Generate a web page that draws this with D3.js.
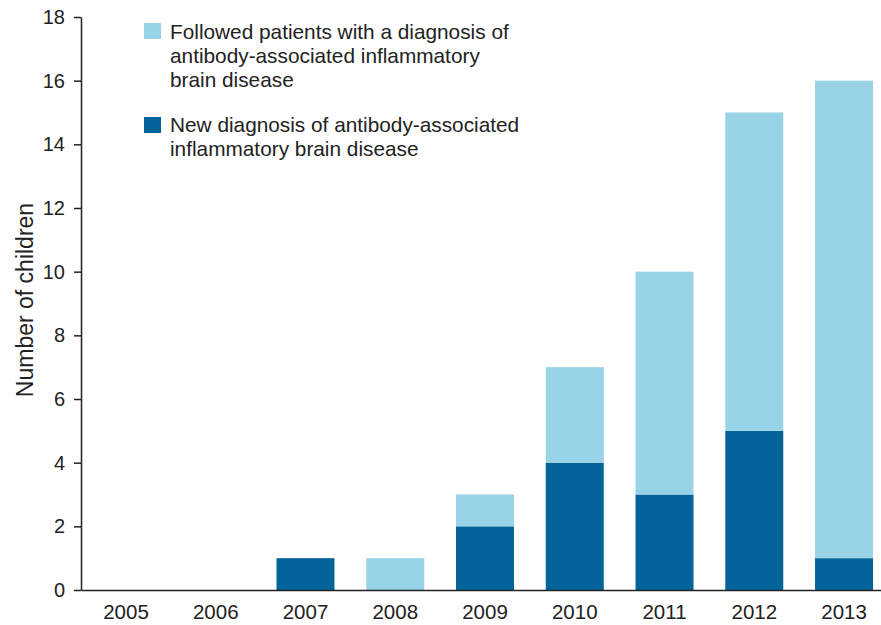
<!DOCTYPE html>
<html>
<head>
<meta charset="utf-8">
<script src="https://cdn.jsdelivr.net/npm/d3@7"></script>
<style>
  body { margin: 0; background: #fff; }
  svg { display: block; font-family: "Liberation Sans", Arial, sans-serif; }
</style>
</head>
<body>
<svg width="881" height="625"></svg>
<script>
var years = ["2005", "2006", "2007", "2008", "2009", "2010", "2011", "2012", "2013"];
var newDiagnosis = [0, 0, 1, 0, 2, 4, 3, 5, 1];
var followed = [0, 0, 0, 1, 1, 3, 7, 10, 15];
var yTicks = [0, 2, 4, 6, 8, 10, 12, 14, 16, 18];
var legendFollowed = ["Followed patients with a diagnosis of", "antibody-associated inflammatory", "brain disease"];
var legendNew = ["New diagnosis of antibody-associated", "inflammatory brain disease"];

var lightBlue = "#99d3e8";
var darkBlue = "#03649a";
var ink = "#222";

var svg = d3.select("svg");
var plotLeft = 81;
var plotBottom = 590;
var plotTop = 17;

var x = d3.scaleBand()
    .domain(years)
    .range([plotLeft, 889])
    .paddingInner(0.354)
    .paddingOuter(0.178);

var y = d3.scaleLinear()
    .domain([0, 18])
    .range([plotBottom, plotTop]);

var rows = years.map(function(yr, i) {
    return { year: yr, newD: newDiagnosis[i], fol: followed[i] };
});

var stack = d3.stack().keys(["newD", "fol"]);
var layers = stack(rows);
var colors = { newD: darkBlue, fol: lightBlue };

svg.append("g").selectAll("g")
    .data(layers)
    .enter().append("g")
    .attr("fill", function(d) { return colors[d.key]; })
    .selectAll("rect")
    .data(function(d) { return d; })
    .enter().append("rect")
    .attr("x", function(d) { return x(d.data.year); })
    .attr("width", x.bandwidth())
    .attr("y", function(d) { return y(d[1]); })
    .attr("height", function(d) { return y(d[0]) - y(d[1]); });

// y axis
var yAxis = svg.append("g")
    .attr("transform", "translate(" + plotLeft + ",0)")
    .call(d3.axisLeft(y).tickValues(yTicks).tickSize(7).tickPadding(9).tickSizeOuter(0));
yAxis.selectAll("path, line").attr("stroke", ink).attr("stroke-width", 1.5);
yAxis.selectAll("text").attr("fill", ink).style("font-size", "20px").attr("font-family", null);

// x axis
var xAxis = svg.append("g")
    .attr("transform", "translate(0," + plotBottom + ")")
    .call(d3.axisBottom(x).tickSize(0).tickPadding(14).tickSizeOuter(0));
xAxis.select("path").attr("stroke", ink).attr("stroke-width", 1.5);
xAxis.selectAll("text").attr("fill", ink).style("font-size", "20.5px").attr("font-family", null);

// y label
svg.append("text")
    .attr("transform", "translate(33,300) rotate(-90)")
    .attr("text-anchor", "middle")
    .attr("fill", ink)
    .style("font-size", "23px")
    .text("Number of children");

// legend
var legend = svg.append("g").style("font-size", "20.8px").attr("fill", ink);

legend.append("rect").attr("x", 144).attr("y", 23).attr("width", 17).attr("height", 16).attr("fill", lightBlue);
legend.append("text").selectAll("tspan")
    .data(legendFollowed)
    .enter().append("tspan")
    .attr("x", 170)
    .attr("y", function(d, i) { return 38.5 + i * 24; })
    .text(function(d) { return d; });

legend.append("rect").attr("x", 144).attr("y", 117).attr("width", 17).attr("height", 16).attr("fill", darkBlue);
legend.append("text").selectAll("tspan")
    .data(legendNew)
    .enter().append("tspan")
    .attr("x", 170)
    .attr("y", function(d, i) { return 132 + i * 24; })
    .text(function(d) { return d; });
</script>
</body>
</html>
